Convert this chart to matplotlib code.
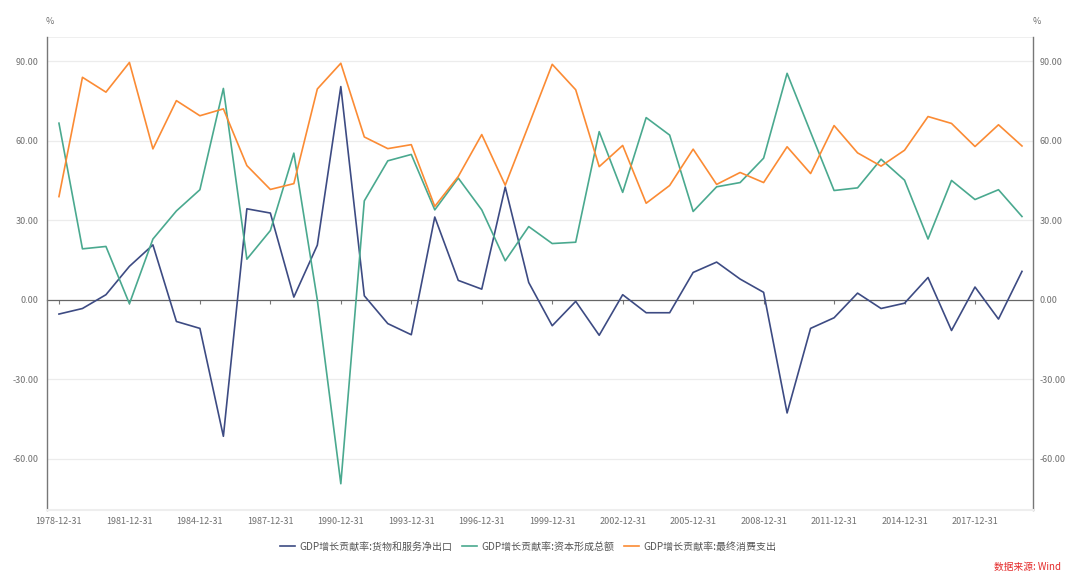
import matplotlib
matplotlib.use("Agg")
import matplotlib.pyplot as plt

plt.rcParams['font.family'] = ['Noto Sans CJK SC', 'DejaVu Sans']

years = list(range(1978, 2020))
net_exports = [-5.4, -3.3, 1.9, 12.6, 20.7, -8.2, -10.8, -51.5, 34.3, 32.7,
               1.0, 20.6, 80.4, 1.5, -9.0, -13.2, 31.2, 7.3, 4.0, 42.5,
               6.5, -9.8, -0.6, -13.4, 1.9, -4.9, -4.9, 10.3, 14.2, 7.8,
               2.8, -42.7, -10.8, -6.8, 2.5, -3.3, -1.3, 8.4, -11.6, 4.8,
               -7.3, 10.7]
capital = [66.6, 19.2, 20.1, -1.5, 22.9, 33.5, 41.5, 79.7, 15.3, 26.1,
           55.3, -0.1, -69.4, 37.3, 52.4, 54.8, 33.9, 45.9, 33.9, 14.7,
           27.6, 21.2, 21.7, 63.4, 40.5, 68.7, 62.1, 33.3, 42.6, 44.2,
           53.4, 85.4, 63.2, 41.2, 42.2, 53.0, 45.1, 22.9, 45.0, 37.8,
           41.5, 31.4]
consumption = [38.9, 83.9, 78.3, 89.5, 56.9, 75.1, 69.4, 72.0, 50.6, 41.6,
               43.8, 79.5, 89.2, 61.4, 57.0, 58.5, 35.2, 46.5, 62.3, 43.2,
               65.9, 88.8, 79.2, 50.2, 58.2, 36.4, 43.1, 56.8, 43.5, 48.0,
               44.2, 57.7, 47.6, 65.7, 55.4, 50.4, 56.4, 69.1, 66.5, 57.8,
               66.0, 58.0]
names = ["GDP增长贡献率:货物和服务净出口", "GDP增长贡献率:资本形成总额",
         "GDP增长贡献率:最终消费支出"]
colors = ["#3d4b83", "#4aa98f", "#fb8b34"]
yticks = [-60, -30, 0, 30, 60, 90]
xtick_years = list(range(1978, 2019, 3))

fig = plt.figure(figsize=(10.8, 5.8), dpi=100)
ax = fig.add_axes([0.0435, 0.1207, 0.913, 0.8155])
ymin, ymax = -79.3, 99.1
ax.set_ylim(ymin, ymax)
ax.set_xlim(1977.49, 2019.47)

for vals, name, c in zip([net_exports, capital, consumption], names, colors):
    ax.plot(years, vals, color=c, lw=1.2, label=name, zorder=3)

for v in yticks:
    if v != 0:
        ax.axhline(v, color="#ececec", lw=0.9, zorder=1)
ax.axhline(ymax, color="#ececec", lw=1.2, zorder=1)

ax.set_yticks(yticks)
ax.set_yticklabels([f"{v:.2f}" for v in yticks])
ax.tick_params(axis="y", length=0, labelsize=6.5, labelcolor="#707070", pad=6)
ax.set_xticks(xtick_years)
ax.set_xticklabels([f"{y}-12-31" for y in xtick_years])
ax.tick_params(axis="x", length=0, labelsize=6.5, labelcolor="#707070", pad=5)

ax.spines["top"].set_visible(False)
ax.spines["bottom"].set_color("#eeeeee")
ax.spines["bottom"].set_linewidth(1.5)
for s in ["left", "right"]:
    ax.spines[s].set_color("#777777")
    ax.spines[s].set_linewidth(1.0)

# zero line with small ticks
zero_pos = (0 - ymin) / (ymax - ymin)
sec = ax.secondary_xaxis(zero_pos)
sec.set_xticks(xtick_years)
sec.set_xticklabels([])
sec.tick_params(axis="x", direction="out", length=3, color="#777777", width=0.8)
sec.spines["bottom"].set_color("#666666")
sec.spines["bottom"].set_linewidth(0.9)
sec.xaxis.set_ticks_position("bottom")

# right axis labels
ax2 = ax.twinx()
ax2.set_ylim(ymin, ymax)
ax2.set_yticks(yticks)
ax2.set_yticklabels([f"{v:.2f}" for v in yticks])
ax2.tick_params(axis="y", length=0, labelsize=6.5, labelcolor="#707070", pad=5)
for s in ["top", "bottom", "left", "right"]:
    ax2.spines[s].set_visible(False)

fig.text(0.0425, 0.963, "%", fontsize=6.5, color="#707070", ha="left", va="center")
fig.text(0.956, 0.963, "%", fontsize=6.5, color="#707070", ha="left", va="center")

fig.legend(loc="center", bbox_to_anchor=(0.489, 0.057), ncol=3, frameon=False,
           fontsize=7.2, handlelength=1.5, columnspacing=0.9, handletextpad=0.5,
           labelcolor="#555555")

fig.text(0.982, 0.022, "数据来源: Wind", fontsize=7, color="#e42a2a",
         ha="right", va="center", style="italic")

fig.savefig("out.png", dpi=100)
